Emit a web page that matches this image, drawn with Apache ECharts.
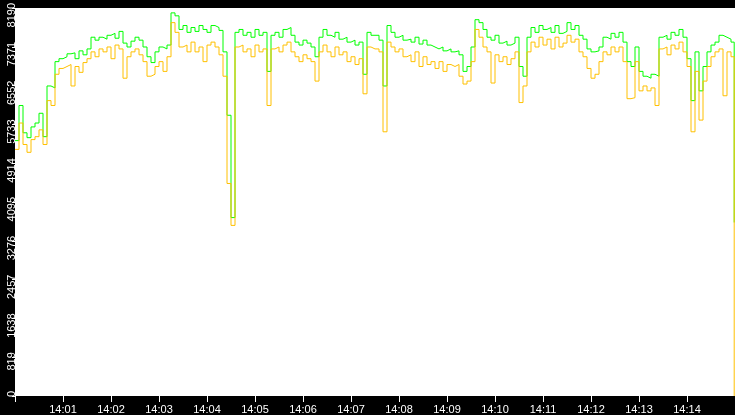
<!DOCTYPE html>
<html>
<head>
<meta charset="utf-8">
<title>chart</title>
<script src="https://cdn.jsdelivr.net/npm/echarts@6/dist/echarts.min.js"></script>
<style>
  html, body { margin: 0; padding: 0; background: #000; }
  #chart { width: 735px; height: 415px; }
</style>
</head>
<body>
<div id="chart"></div>
<script>
// samples every 5 seconds from 14:00:00, last sample at 14:14:59
var startTime = new Date(2024, 0, 1, 14, 0, 0).getTime();
var stepMs = 5000;
var lastTime = new Date(2024, 0, 1, 14, 14, 59).getTime();
var endTime = new Date(2024, 0, 1, 14, 15, 0).getTime();

var yTicks = [0, 819, 1638, 2457, 3276, 4095, 4914, 5733, 6552, 7371, 8190];

var greenValues = [
  5391,6132,5556,5453,5680,5762,5968,5474,6544,6503,
  7058,7120,7161,7223,7243,7120,7285,7202,7326,7573,
  7511,7573,7532,7614,7655,7552,7696,7449,7367,7490,
  7573,7511,7367,7161,7038,7264,7367,7326,7408,8087,
  8025,7737,7820,7676,7778,7696,7820,7737,7676,7820,
  7778,7717,7264,5926,3766,7676,7737,7614,7676,7573,
  7737,7614,7676,6852,7614,7676,7573,7737,7778,7614,
  7470,7408,7511,7449,7367,7161,7573,7737,7614,7573,
  7676,7532,7573,7470,7511,7408,7470,6791,7676,7614,
  7614,7511,6544,7820,7676,7573,7614,7511,7532,7470,
  7573,7429,7511,7408,7367,7326,7367,7285,7326,7264,
  7285,7202,6852,6955,7367,7943,7881,7737,7573,7511,
  7614,7449,7490,7408,7449,7573,6955,6750,7573,7778,
  7676,7820,7737,7778,7676,7820,7655,7696,7881,7737,
  7820,7614,7532,7326,7264,7285,7367,7573,7532,7655,
  7573,7676,7470,7058,6955,7367,6852,6750,6708,6791,
  6750,7573,7614,7532,7676,7614,7737,7573,7120,6235,
  7264,6441,6955,7264,7408,7470,7614,7573,7532,7470,
  3663
];

var yellowValues = [
  5206,5762,5309,5144,5412,5474,5618,5309,6235,6132,
  6791,6914,6955,6997,6544,6955,6832,7038,7120,7264,
  7161,7326,7264,7367,7120,7408,7326,6708,7161,7264,
  7326,7202,7058,6750,6791,6955,7058,6852,7161,7881,
  7676,7367,7408,7264,7470,7264,7367,7058,7408,7470,
  7367,7202,6750,4486,3601,7367,7408,7264,7326,7161,
  7408,7264,7326,6132,7326,7367,7264,7408,7470,7264,
  7161,7058,7202,7120,7058,6647,7264,7408,7264,7161,
  7367,7202,7264,7058,7161,6997,7120,6379,7367,7326,
  7326,7264,5577,7470,7367,7264,7326,7161,7202,7058,
  7264,6955,7161,6997,7058,6914,7058,6852,6997,6955,
  6997,6750,6585,6647,7058,7737,7573,7367,7264,6606,
  7202,7058,7161,6997,7120,7264,6194,6544,7264,7470,
  7367,7573,7408,7532,7326,7573,7367,7449,7614,7470,
  7532,7264,7161,6914,6708,6791,7058,7264,7202,7367,
  7264,7367,7058,6276,6297,7058,6441,6544,6441,6503,
  6132,7326,7367,7202,7408,7326,7470,7264,6955,5577,
  6852,5824,6647,6955,7161,7264,7326,6338,7264,7161,
  0
];

function pairs(values) {
  var out = [];
  for (var i = 0; i < values.length; i++) {
    var t = (i === values.length - 1) ? lastTime : startTime + i * stepMs;
    out.push([t, values[i]]);
  }
  return out;
}

function pad(n) { return n < 10 ? '0' + n : '' + n; }

var myChart = echarts.init(document.getElementById('chart'));

var option = {
  backgroundColor: '#000',
  animation: false,
  grid: {
    left: 15, right: 0, top: 0, bottom: 17,
    show: true, backgroundColor: '#fff', borderWidth: 0
  },
  xAxis: {
    type: 'time',
    min: startTime,
    max: endTime,
    minInterval: 60000,
    maxInterval: 60000,
    axisLine: { show: false },
    axisTick: { show: true, length: 6, lineStyle: { color: '#fff', width: 1 } },
    splitLine: { show: false },
    axisLabel: {
      color: '#fff',
      fontFamily: 'Liberation Sans',
      fontSize: 11,
      margin: 8,
      hideOverlap: false,
      formatter: function (v) {
        if (v <= startTime || v >= endTime) return '';
        var d = new Date(v);
        return pad(d.getHours()) + ':' + pad(d.getMinutes());
      }
    }
  },
  yAxis: {
    type: 'value',
    min: yTicks[0],
    max: yTicks[yTicks.length - 1],
    interval: yTicks[1] - yTicks[0],
    axisLine: { show: false },
    axisTick: { show: true, length: 3, lineStyle: { color: '#fff', width: 1 } },
    splitLine: { show: false },
    axisLabel: {
      color: '#fff',
      fontFamily: 'Liberation Sans',
      fontSize: 11,
      rotate: 90,
      margin: 3,
      align: 'right',
      verticalAlign: 'middle',
      padding: [0, -5, 0, 0],
      formatter: function (v) { return String(v); }
    }
  },
  series: [
    {
      name: 'green',
      type: 'line',
      step: 'end',
      showSymbol: false,
      data: pairs(greenValues),
      lineStyle: { color: '#00ff00', width: 1 },
      itemStyle: { color: '#00ff00' }
    },
    {
      name: 'yellow',
      type: 'line',
      step: 'end',
      showSymbol: false,
      data: pairs(yellowValues),
      lineStyle: { color: '#ffc000', width: 1 },
      itemStyle: { color: '#ffc000' }
    }
  ]
};

myChart.setOption(option);
</script>
</body>
</html>
